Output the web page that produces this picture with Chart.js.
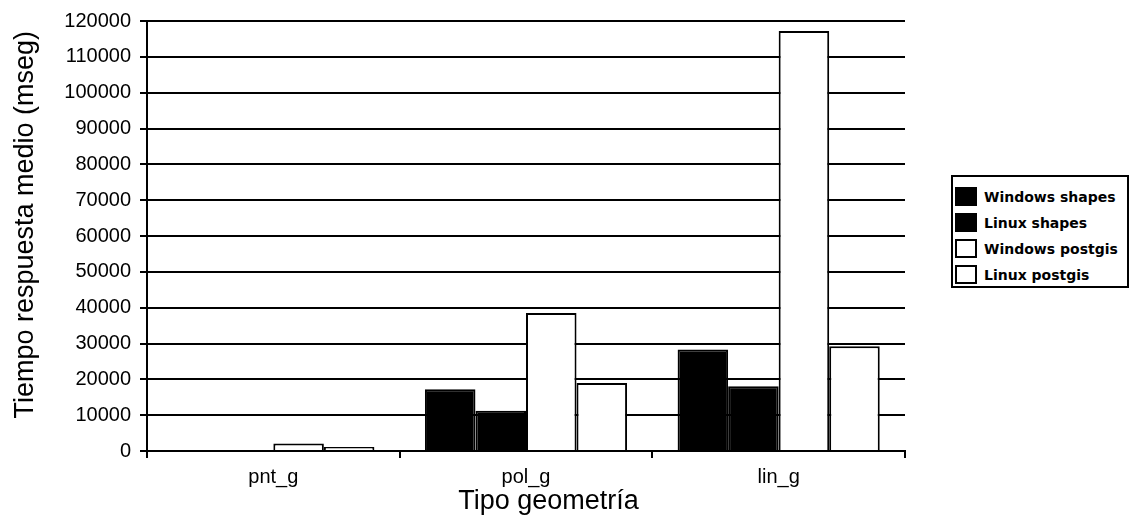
<!DOCTYPE html>
<html>
<head>
<meta charset="utf-8">
<script src="https://cdn.jsdelivr.net/npm/chart.js@4/dist/chart.umd.min.js"></script>
<style>
  html, body { margin: 0; padding: 0; background: #fff; }
  #wrap { position: relative; width: 1136px; height: 530px; }
  #plot { position: absolute; left: 0; top: 0; width: 920px; height: 530px; }
  #legend {
    position: absolute; left: 951px; top: 175px; width: 174px; height: 109px;
    border: 2px solid #000; font: bold 14px "DejaVu Sans", sans-serif; color: #000;
  }
  #legend .row { position: absolute; left: 2px; height: 17px; display: flex; align-items: center; white-space: nowrap; }
  #legend .sw { width: 18px; height: 15px; border: 2px solid #000; margin-right: 7px; box-sizing: content-box; }
</style>
</head>
<body>
<div id="wrap">
  <div id="plot"><canvas id="chart"></canvas></div>
  <div id="legend"></div>
</div>
<script>
const categories = ["pnt_g", "pol_g", "lin_g"];
const seriesNames = ["Windows shapes", "Linux shapes", "Windows postgis", "Linux postgis"];
const windowsShapes = [100, 17200, 28300];
const linuxShapes = [80, 11200, 18100];
const windowsPostgis = [2100, 38500, 117200];
const linuxPostgis = [1100, 19000, 29200];
const fills = ["#000000", "#000000", "#ffffff", "#ffffff"];

const font = "'Liberation Sans', Arial, sans-serif";

const datasets = [windowsShapes, linuxShapes, windowsPostgis, linuxPostgis].map((values, i) => ({
  label: seriesNames[i],
  data: values,
  backgroundColor: fills[i],
  borderColor: "#000",
  borderWidth: 2,
  barPercentage: 1,
  categoryPercentage: 0.8
}));

new Chart(document.querySelector("#chart"), {
  type: "bar",
  data: { labels: categories, datasets },
  options: {
    responsive: true,
    maintainAspectRatio: false,
    animation: false,
    layout: { padding: { left: 0, right: 15, top: 20, bottom: 0 } },
    plugins: { legend: { display: false }, tooltip: { enabled: false } },
    scales: {
      x: {
        afterFit: (scale) => { scale.height = 79; },
        grid: { offset: true, drawOnChartArea: false, drawTicks: true, tickLength: 7, color: "#000", lineWidth: 2 },
        border: { color: "#000", width: 2 },
        ticks: { color: "#000", padding: 7, font: { family: font, size: 20 } },
        title: {
          display: true, text: "\u00a0\u00a0\u00a0\u00a0\u00a0\u00a0Tipo geometría", color: "#000",
          font: { family: font, size: 27 }, padding: { top: 0, bottom: 12 }
        }
      },
      y: {
        min: 0,
        max: 120000,
        afterFit: (scale) => { scale.width = 147; },
        grid: { color: "#000", lineWidth: 2, tickLength: 7 },
        border: { color: "#000", width: 2 },
        ticks: {
          stepSize: 10000, color: "#000", padding: 9, font: { family: font, size: 20 },
          callback: (value) => String(value)
        },
        title: {
          display: true, text: "\u00a0\u00a0\u00a0Tiempo respuesta medio (mseg)", color: "#000",
          font: { family: font, size: 27 }, padding: { top: 9, bottom: 0 }
        }
      }
    }
  }
});

const legend = document.querySelector("#legend");
seriesNames.forEach((name, i) => {
  const row = document.createElement("div");
  row.className = "row";
  row.style.top = (11 + i * 26) + "px";
  row.innerHTML = `<span class="sw" style="background:${fills[i]}"></span><span>${name}</span>`;
  legend.appendChild(row);
});
</script>
</body>
</html>
